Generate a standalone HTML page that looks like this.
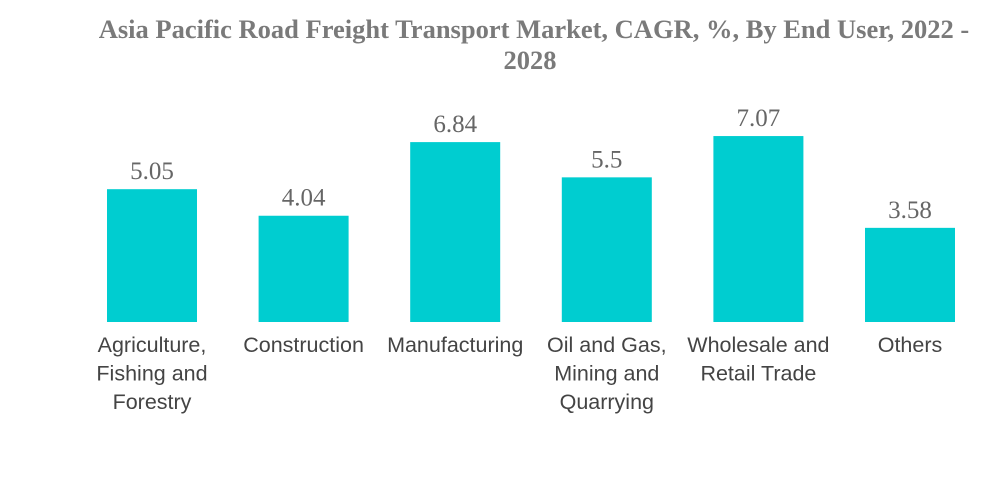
<!DOCTYPE html>
<html><head><meta charset="utf-8"><style>
body{margin:0;background:#fff;width:1000px;height:483px;overflow:hidden}
svg{display:block}
.t{font-family:"Liberation Serif",serif;font-weight:bold;font-size:26.5px;fill:#7a7a7a}
.v{font-family:"Liberation Serif",serif;font-size:25px;fill:#666}
.c{font-family:"Liberation Sans",sans-serif;font-size:21.5px;fill:#444}
</style></head><body>
<svg id="chart" width="1000" height="483">
<text class="t" x="534" y="38" text-anchor="middle">Asia Pacific Road Freight Transport Market, CAGR, %, By End User, 2022 -</text>
<text class="t" x="530" y="69" text-anchor="middle">2028</text>
</svg>
<script>
const categories=[["Agriculture,","Fishing and","Forestry"],["Construction"],["Manufacturing"],["Oil and Gas,","Mining and","Quarrying"],["Wholesale and","Retail Trade"],["Others"]];
const values=[5.05,4.04,6.84,5.5,7.07,3.58];
const labels=["5.05","4.04","6.84","5.5","7.07","3.58"];
const svg=document.getElementById('chart');
const NS='http://www.w3.org/2000/svg';
const base=322, scale=26.3, x0=152, step=151.6, bw=90;
const xs=i=>x0+i*step;
const ys=v=>base-v*scale;
values.forEach((v,i)=>{
  const r=document.createElementNS(NS,'rect');
  r.setAttribute('x',xs(i)-bw/2);r.setAttribute('y',ys(v));
  r.setAttribute('width',bw);r.setAttribute('height',base-ys(v));
  r.setAttribute('fill','#00CDD0');
  
  
  svg.appendChild(r);
  const t=document.createElementNS(NS,'text');
  t.setAttribute('class','v');t.setAttribute('x',xs(i));t.setAttribute('y',ys(v)-10);
  t.setAttribute('text-anchor','middle');t.textContent=labels[i];
  
  
  svg.appendChild(t);
  categories[i].forEach((line,j)=>{
    const c=document.createElementNS(NS,'text');
    c.setAttribute('class','c');c.setAttribute('x',xs(i));c.setAttribute('y',352+j*28.5);
    c.setAttribute('text-anchor','middle');c.textContent=line;
    
    
    svg.appendChild(c);
  });
});
</script>
</body></html>
